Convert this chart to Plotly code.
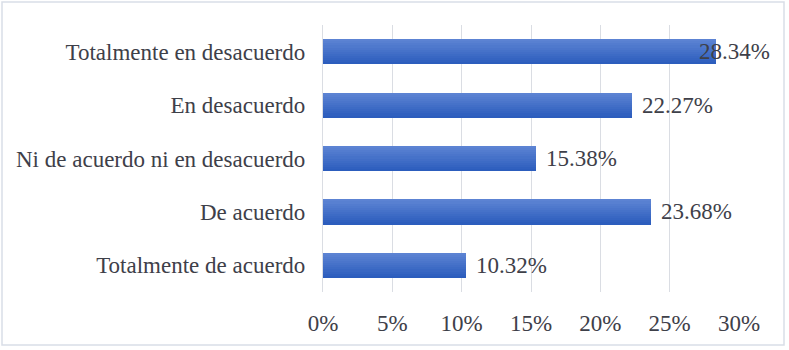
import plotly.graph_objects as go

categories = ["Totalmente en desacuerdo", "En desacuerdo", "Ni de acuerdo ni en desacuerdo",
              "De acuerdo", "Totalmente de acuerdo"]
values = [28.34, 22.27, 15.38, 23.68, 10.32]
tick_vals = [0, 5, 10, 15, 20, 25, 30]
tick_text = ["0%", "5%", "10%", "15%", "20%", "25%", "30%"]

W, H = 789, 350
ML, MR, MT, MB = 323, 50, 25, 58
PW, PH = W - ML - MR, H - MT - MB
XMAX = 30

FONT = "Liberation Serif, Times New Roman, serif"
TXT = "#3E4049"
FS = 23

top_rgb = (92, 131, 211)
bot_rgb = (44, 93, 189)
N = 12
bw = 0.47

fig = go.Figure()
for i in range(N):
    t = i / (N - 1)
    c = tuple(int(round(top_rgb[k] + (bot_rgb[k] - top_rgb[k]) * t)) for k in range(3))
    fig.add_trace(go.Bar(
        x=values, y=categories, orientation="h",
        width=bw / N + 0.002, offset=-bw / 2 + i * bw / N,
        marker=dict(color="rgb(%d,%d,%d)" % c, line=dict(width=0)),
        showlegend=False, hoverinfo="skip",
    ))

# value labels
px_per = PW / XMAX
label_w = 71
right_limit = 768 - ML
for v, c in zip(values, categories):
    start = v * px_per + 8
    shift = 8
    if start + label_w > right_limit:
        shift -= (start + label_w - right_limit)
    fig.add_annotation(x=v, y=c, text=f"{v:.2f}%", showarrow=False,
                       xanchor="left", xshift=shift,
                       font=dict(family=FONT, size=FS, color=TXT))

# outer frame
fig.add_shape(type="rect", xref="paper", yref="paper",
              x0=(2 - ML) / PW, x1=(784 - ML) / PW,
              y0=(MT + PH - 345) / PH, y1=(MT + PH - 2) / PH,
              line=dict(color="#D9DEE7", width=1.5), fillcolor="rgba(0,0,0,0)",
              layer="below")

fig.update_layout(
    width=W, height=H,
    margin=dict(l=ML, r=MR, t=MT, b=MB),
    barmode="overlay", bargap=0,
    plot_bgcolor="white", paper_bgcolor="white",
    font=dict(family=FONT, size=FS, color=TXT),
    xaxis=dict(range=[0, XMAX], tickvals=tick_vals, ticktext=tick_text,
               showgrid=True, gridcolor="#DADDE3", gridwidth=1.2,
               zeroline=False, ticks="outside", ticklen=10,
               tickcolor="rgba(0,0,0,0)", showline=False, fixedrange=True),
    yaxis=dict(autorange="reversed", ticks="outside", ticklen=12,
               tickcolor="rgba(0,0,0,0)", showgrid=False, showline=True,
               linecolor="#DADDE3", linewidth=1.2, fixedrange=True),
)

fig.write_html("out.html", config={"displayModeBar": False},
               post_script="document.body.style.margin='0';document.body.style.overflow='hidden';")
